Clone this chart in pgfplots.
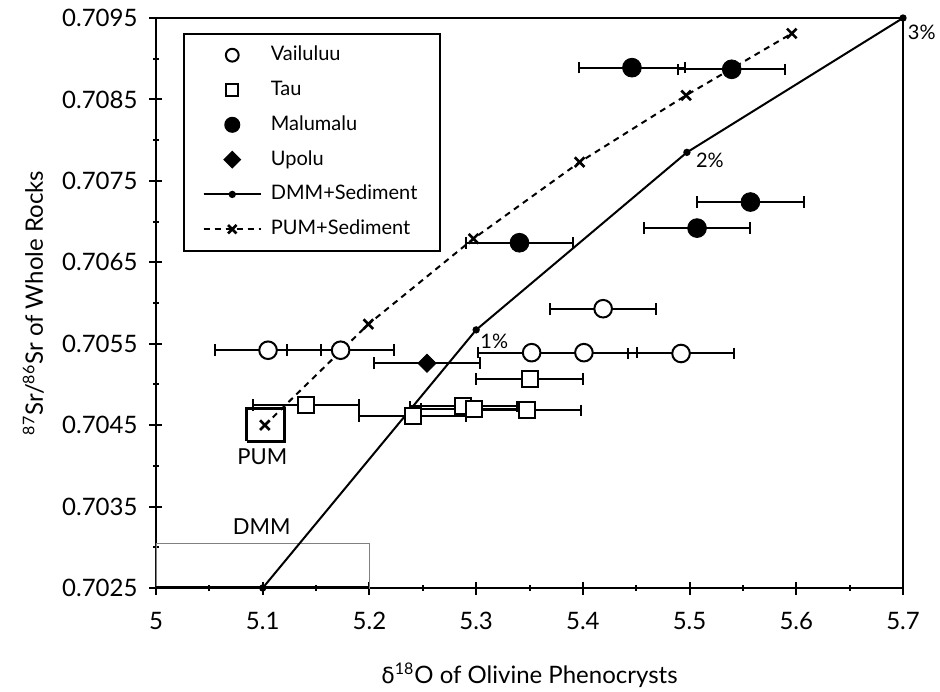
\documentclass[border=0pt]{standalone}
\usepackage{pgfplots}
\pgfplotsset{compat=1.18}
\usepackage{fontspec}
\setmainfont{Lato}
\newfontfamily\greek{DejaVu Sans}

\begin{document}
\begin{tikzpicture}
\path[use as bounding box] (-78pt,-51.5pt) rectangle (392pt,294pt);
\begin{axis}[
    scale only axis,
    width=373.5pt, height=285pt,
    xmin=5, xmax=5.7, ymin=0.7025, ymax=0.7095,
    clip mode=individual,
    axis line style={line width=1pt},
    xtick={5,5.1,5.2,5.3,5.4,5.5,5.6,5.7},
    xticklabels={5,5.1,5.2,5.3,5.4,5.5,5.6,5.7},
    minor xtick={5.05,5.15,5.25,5.35,5.45,5.55,5.65},
    ytick={0.7025,0.7035,0.7045,0.7055,0.7065,0.7075,0.7085,0.7095},
    yticklabels={0.7025,0.7035,0.7045,0.7055,0.7065,0.7075,0.7085,0.7095},
    minor ytick={0.703,0.704,0.705,0.706,0.707,0.708,0.709},
    scaled y ticks=false,
    xtick pos=left, ytick pos=left,
    tick align=center,
    major tick length=6.5pt, minor tick length=3pt,
    tick style={line width=1pt, black},
    /pgf/number format/assume math mode=true,
    ticklabel style={font=\fontsize{12}{14}\selectfont},
    xticklabel shift=5.5pt,
    yticklabel shift=2.5pt,
    xlabel={{\greek\fontsize{11}{13}\selectfont δ}\textsuperscript{18}O of Olivine Phenocrysts},
    ylabel={\textsuperscript{87}Sr/\textsuperscript{86}Sr of Whole Rocks},
    label style={font=\fontsize{12}{14}\selectfont},
    xlabel style={at={(axis description cs:0.5,0)}, anchor=base, yshift=-47.5pt},
    ylabel style={at={(axis description cs:-0.1513,0.5)}, anchor=base},
    legend style={at={(rel axis cs:0.0357,0.9742)}, anchor=north west,
      draw=black, line width=1pt, inner xsep=9.5pt, inner ysep=5.5pt,
      row sep=6.9pt, column sep=2.7pt, font=\fontsize{10}{12}\selectfont,
      nodes={text height=8pt, text depth=2.5pt, inner ysep=0pt, inner xsep=1.8pt}},
    legend cell align=left,
    legend image code/.code={
      \path (0pt,0pt) -- (28.6pt,0pt);
      \draw[mark repeat=2, mark phase=2, #1] plot coordinates {(0pt,0pt) (14.3pt,0pt) (28.6pt,0pt)};
    },
    sample/.style={only marks, forget plot,
      error bars/x dir=both, error bars/x fixed=0.05, error bars/error mark=|,
      error bars/error bar style={line width=1pt, black},
      error bars/error mark options={black, line width=1pt, mark size=2.9pt}},
  ]

  % mixing curves and source boxes (behind the data)
  \addplot[forget plot, gray, line width=0.7pt] coordinates {
    (5,0.7025) (5.2,0.7025) (5.2,0.70305) (5,0.70305) (5,0.7025)
  };
  \addplot[forget plot, black, line width=2pt] coordinates {(5,0.7025) (5.2,0.7025)};
  \addplot[forget plot, black, line width=1.5pt] coordinates {
    (5.085,0.7043) (5.12,0.7043) (5.12,0.70471) (5.085,0.70471) (5.085,0.7043)
  };
  \addplot[forget plot, black, line width=1pt, mark=*, mark size=1.3pt] coordinates {
    (5.1,0.7025) (5.3,0.70567) (5.4975,0.70785) (5.7,0.7095)
  };
  \addplot[forget plot, black, line width=1pt, dash pattern=on 3pt off 2.5pt,
    mark=x, mark size=3.4pt, mark options={solid, line width=1.3pt}] coordinates {
    (5.102,0.7045) (5.199,0.70574) (5.2975,0.70679) (5.397,0.70773) (5.4967,0.70855) (5.5958,0.70931)
  };

  % samples, with +-0.05 permil error bars
  % Vailuluu
  \addplot[sample, mark=*, mark size=4.4pt,
    mark options={fill=white, draw=black, line width=1pt}] coordinates {
    (5.105,0.70542) (5.173,0.70542) (5.352,0.70539) (5.401,0.70539) (5.492,0.70538) (5.419,0.70593)
  };
  % Tau
  \addplot[sample, mark=square*, mark size=4pt,
    mark options={fill=white, draw=black, line width=1pt}] coordinates {
    (5.1406,0.70475) (5.2406,0.70461) (5.288,0.70473) (5.298,0.7047) (5.348,0.70468) (5.35,0.70507)
  };
  % Malumalu
  \addplot[sample, mark=*, mark size=4.7pt,
    mark options={fill=black, draw=black}] coordinates {
    (5.446,0.70889) (5.5395,0.70887) (5.557,0.70724) (5.507,0.70692) (5.3406,0.70674)
  };
  % Upolu
  \addplot[sample, mark=square*, mark size=3.2pt,
    mark options={fill=black, draw=black, rotate=45}] coordinates {
    (5.254,0.70526)
  };

  \addlegendimage{only marks, draw=none, mark=*, mark size=3.2pt, mark options={fill=white, draw=black, line width=1pt}}
  \addlegendentry{Vailuluu}
  \addlegendimage{only marks, draw=none, mark=square*, mark size=3.1pt, mark options={fill=white, draw=black, line width=1pt}}
  \addlegendentry{Tau}
  \addlegendimage{only marks, draw=none, mark=*, mark size=3.5pt, mark options={fill=black, draw=black}}
  \addlegendentry{Malumalu}
  \addlegendimage{only marks, draw=none, mark=square*, mark size=2.7pt, mark options={fill=black, draw=black, rotate=45}}
  \addlegendentry{Upolu}
  \addlegendimage{black, line width=1pt, mark=*, mark size=1.3pt}
  \addlegendentry{DMM+Sediment}
  \addlegendimage{black, line width=1pt, dash pattern=on 3pt off 2.5pt,
    mark=x, mark size=3pt, mark options={solid, line width=1.3pt}}
  \addlegendentry{PUM+Sediment}

  \node[font=\fontsize{11}{13}\selectfont] at (axis cs:5.0997,0.70411) {PUM};
  \node[font=\fontsize{11}{13}\selectfont] at (axis cs:5.099,0.70325) {DMM};
  \node[font=\fontsize{10}{12}\selectfont] at (axis cs:5.317,0.70553) {1\%};
  \node[font=\fontsize{10}{12}\selectfont] at (axis cs:5.519,0.70775) {2\%};
  \node[font=\fontsize{10}{12}\selectfont] at (axis cs:5.7176,0.70933) {3\%};
\end{axis}
\end{tikzpicture}
\end{document}
